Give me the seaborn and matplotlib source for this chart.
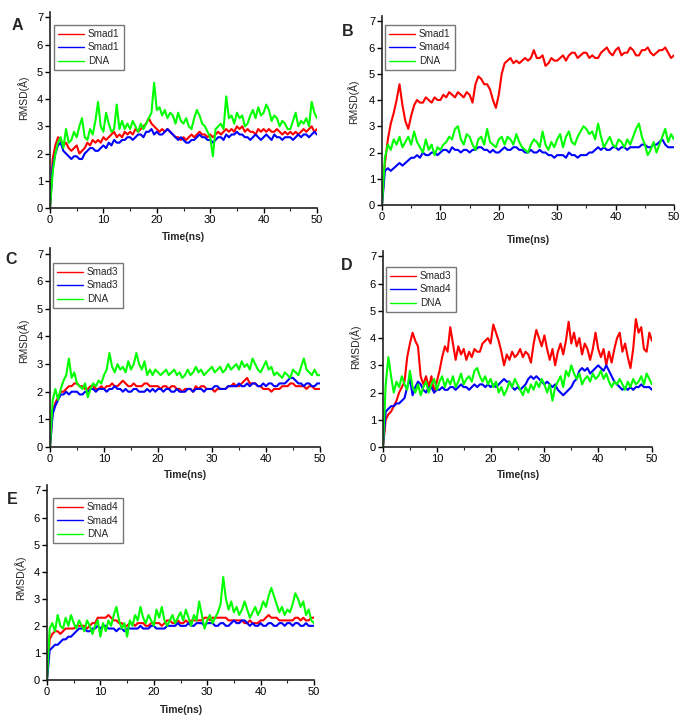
import numpy as np
import pandas as pd
import seaborn as sns
import matplotlib
matplotlib.use("Agg")
import matplotlib.pyplot as plt
from matplotlib.ticker import MultipleLocator

# sampling grid of the trajectories (ns)
time_ns = np.arange(0, 50.5, 0.5)

# ---- panel A : Smad1 / Smad1 / DNA
a_red = [0.0, 1.8, 2.3, 2.6, 2.5, 2.3, 2.4, 2.2, 2.1, 2.2,
         2.3, 2.0, 2.1, 2.2, 2.4, 2.3, 2.5, 2.4, 2.5, 2.4,
         2.6, 2.5, 2.6, 2.7, 2.8, 2.6, 2.7, 2.6, 2.8, 2.7,
         2.8, 2.7, 2.9, 2.8, 2.9, 3.0, 3.1, 3.3, 3.1, 3.0,
         2.9, 2.8, 2.9, 2.8, 2.9, 2.8, 2.7, 2.6, 2.6, 2.5,
         2.6, 2.5, 2.6, 2.7, 2.6, 2.7, 2.8, 2.7, 2.7, 2.6,
         2.7, 2.6, 2.7, 2.8, 2.7, 2.8, 2.9, 2.8, 2.9, 2.8,
         3.0, 2.9, 3.0, 2.8, 2.9, 2.8, 2.8, 2.7, 2.9, 2.8,
         2.9, 2.8, 2.9, 2.8, 2.8, 2.9, 2.8, 2.7, 2.8, 2.7,
         2.8, 2.7, 2.8, 2.7, 2.8, 2.9, 2.8, 2.9, 3.0, 2.8,
         2.9]
a_blue = [0.0, 1.5, 2.0, 2.3, 2.4, 2.1, 2.0, 1.9, 1.8, 1.9,
          1.9, 1.8, 1.8, 2.0, 2.1, 2.2, 2.2, 2.1, 2.1, 2.2,
          2.3, 2.2, 2.4, 2.3, 2.5, 2.4, 2.4, 2.5, 2.5, 2.6,
          2.6, 2.5, 2.6, 2.7, 2.7, 2.6, 2.8, 2.8, 2.9, 2.7,
          2.8, 2.7, 2.7, 2.8, 2.9, 2.8, 2.7, 2.6, 2.5, 2.6,
          2.5, 2.4, 2.4, 2.5, 2.5, 2.6, 2.7, 2.6, 2.6, 2.5,
          2.5, 2.4, 2.5, 2.6, 2.6, 2.5, 2.7, 2.6, 2.7, 2.7,
          2.8, 2.7, 2.7, 2.6, 2.6, 2.5, 2.6, 2.7, 2.6, 2.5,
          2.6, 2.7, 2.6, 2.5, 2.7, 2.6, 2.6, 2.5, 2.6, 2.6,
          2.6, 2.5, 2.6, 2.7, 2.6, 2.7, 2.7, 2.6, 2.7, 2.8,
          2.7]
a_green = [0.0, 1.3, 2.0, 2.4, 2.6, 2.2, 2.9, 2.4, 2.5, 2.8,
           2.6, 3.0, 3.3, 2.6, 2.5, 2.9, 2.7, 3.2, 3.9, 3.0,
           2.8, 3.5, 3.1, 2.8, 2.9, 3.8, 2.9, 3.2, 2.9, 3.1,
           2.9, 3.2, 3.0, 2.8, 3.1, 2.9, 3.1, 3.3, 3.5, 4.6,
           3.6, 3.7, 3.4, 3.6, 3.3, 3.5, 3.4, 3.1, 3.5, 3.2,
           3.1, 3.3, 3.0, 2.9, 3.3, 3.6, 3.4, 3.1, 3.0, 2.8,
           2.6, 1.9, 2.9, 3.0, 3.1, 2.9, 4.1, 3.3, 3.4, 3.1,
           3.5, 3.3, 3.4, 3.0, 3.1, 3.4, 3.6, 3.3, 3.7, 3.4,
           3.5, 3.8, 3.6, 3.2, 3.4, 3.3, 3.0, 3.2, 3.1, 2.9,
           2.9, 3.2, 3.5, 3.0, 3.2, 3.1, 3.3, 3.0, 3.9, 3.5,
           3.3]

# ---- panel B : Smad1 / Smad4 / DNA
b_red = [0.0, 1.6, 2.5, 3.1, 3.5, 4.0, 4.6, 3.8, 3.2, 2.9,
         3.4, 3.8, 4.0, 3.9, 3.9, 4.1, 4.0, 3.9, 4.1, 4.0,
         4.0, 4.2, 4.1, 4.3, 4.2, 4.1, 4.3, 4.2, 4.1, 4.3,
         4.2, 3.9, 4.6, 4.9, 4.8, 4.6, 4.6, 4.4, 4.0, 3.7,
         4.2, 5.0, 5.4, 5.5, 5.6, 5.4, 5.5, 5.4, 5.5, 5.6,
         5.5, 5.6, 5.9, 5.6, 5.6, 5.7, 5.3, 5.4, 5.6, 5.5,
         5.5, 5.6, 5.7, 5.5, 5.7, 5.8, 5.8, 5.6, 5.7, 5.8,
         5.8, 5.6, 5.7, 5.6, 5.6, 5.8, 5.9, 6.0, 5.8, 5.7,
         5.9, 6.0, 5.7, 5.8, 5.8, 6.0, 5.9, 5.7, 5.7, 5.9,
         5.9, 6.0, 5.8, 5.7, 5.8, 5.9, 5.9, 6.0, 5.8, 5.6,
         5.7]
b_blue = [0.0, 1.3, 1.4, 1.3, 1.4, 1.5, 1.6, 1.5, 1.6, 1.7,
          1.8, 1.8, 1.9, 1.8, 2.0, 1.9, 1.9, 2.0, 2.0, 1.9,
          2.0, 2.1, 2.1, 2.0, 2.2, 2.1, 2.1, 2.0, 2.1, 2.1,
          2.0, 2.1, 2.1, 2.2, 2.2, 2.1, 2.1, 2.0, 2.1, 2.0,
          2.0, 2.1, 2.2, 2.1, 2.1, 2.2, 2.2, 2.1, 2.1, 2.0,
          2.0, 2.1, 2.0, 2.0, 2.1, 2.0, 2.0, 1.9, 1.9, 1.8,
          1.9, 1.9, 1.9, 1.8, 2.0, 1.9, 1.9, 1.8, 1.9, 1.9,
          1.9, 2.0, 2.0, 2.1, 2.2, 2.1, 2.2, 2.1, 2.1, 2.2,
          2.2, 2.1, 2.2, 2.2, 2.1, 2.2, 2.2, 2.2, 2.2, 2.3,
          2.3, 2.2, 2.2, 2.3, 2.3, 2.4, 2.5, 2.3, 2.2, 2.2,
          2.2]
b_green = [0.0, 1.8, 2.3, 2.1, 2.5, 2.3, 2.6, 2.2, 2.4, 2.6,
           2.3, 2.8, 2.4, 2.2, 2.0, 2.5, 2.1, 2.3, 1.9, 2.2,
           2.1, 2.3, 2.4, 2.6, 2.5, 2.9, 3.0, 2.5, 2.3, 2.7,
           2.6, 2.3, 2.1, 2.5, 2.6, 2.3, 2.9, 2.4, 2.3, 2.2,
           2.5, 2.6, 2.3, 2.6, 2.5, 2.3, 2.7, 2.4, 2.2, 2.1,
           2.0, 2.3, 2.5, 2.4, 2.2, 2.8, 2.3, 2.1, 2.4, 2.2,
           2.5, 2.7, 2.2, 2.6, 2.8, 2.4, 2.3, 2.6, 2.8, 3.0,
           2.9, 2.7, 2.8, 2.5, 3.1, 2.6, 2.2, 2.4, 2.6, 2.3,
           2.2, 2.5, 2.4, 2.2, 2.5, 2.3, 2.6, 2.9, 3.1, 2.6,
           2.3, 1.9, 2.1, 2.4, 2.0, 2.3, 2.6, 2.9, 2.4, 2.7,
           2.5]

# ---- panel C : Smad3 / Smad3 / DNA
c_red = [0.0, 1.3, 1.6, 1.8, 2.0, 2.0, 2.1, 2.2, 2.2, 2.3,
         2.3, 2.2, 2.2, 2.1, 2.1, 2.2, 2.2, 2.1, 2.1, 2.2,
         2.1, 2.2, 2.2, 2.3, 2.2, 2.2, 2.3, 2.4, 2.3, 2.2,
         2.2, 2.3, 2.2, 2.2, 2.2, 2.3, 2.3, 2.2, 2.2, 2.2,
         2.2, 2.1, 2.2, 2.2, 2.1, 2.2, 2.2, 2.1, 2.1, 2.0,
         2.1, 2.1, 2.1, 2.0, 2.2, 2.1, 2.2, 2.2, 2.1, 2.1,
         2.1, 2.0, 2.1, 2.1, 2.1, 2.1, 2.2, 2.2, 2.3, 2.2,
         2.2, 2.3, 2.4, 2.5, 2.3, 2.3, 2.3, 2.2, 2.2, 2.1,
         2.1, 2.1, 2.0, 2.1, 2.1, 2.1, 2.2, 2.2, 2.2, 2.3,
         2.3, 2.2, 2.2, 2.2, 2.2, 2.1, 2.2, 2.2, 2.1, 2.1,
         2.1]
c_blue = [0.0, 1.2, 1.5, 1.7, 1.9, 1.9, 2.0, 1.9, 2.0, 2.0,
          2.0, 1.9, 1.9, 2.0, 2.0, 2.1, 2.1, 2.0, 2.1, 2.1,
          2.1, 2.0, 2.1, 2.1, 2.2, 2.1, 2.1, 2.0, 2.1, 2.0,
          2.0, 2.1, 2.1, 2.0, 2.0, 2.0, 2.1, 2.0, 2.1, 2.0,
          2.1, 2.1, 2.0, 2.1, 2.1, 2.0, 2.0, 2.1, 2.0, 2.0,
          2.0, 2.1, 2.1, 2.0, 2.1, 2.1, 2.1, 2.0, 2.1, 2.1,
          2.1, 2.2, 2.2, 2.1, 2.1, 2.1, 2.2, 2.2, 2.2, 2.2,
          2.3, 2.2, 2.2, 2.3, 2.2, 2.3, 2.3, 2.2, 2.2, 2.3,
          2.2, 2.3, 2.3, 2.2, 2.2, 2.3, 2.3, 2.3, 2.4, 2.5,
          2.5, 2.4, 2.3, 2.3, 2.2, 2.3, 2.3, 2.2, 2.2, 2.3,
          2.3]
c_green = [0.0, 1.7, 2.1, 1.7, 2.1, 2.4, 2.6, 3.2, 2.5, 2.7,
           2.3, 2.2, 2.1, 2.3, 1.8, 2.1, 2.3, 2.2, 2.4, 2.3,
           2.6, 2.8, 3.4, 2.9, 2.7, 3.0, 2.8, 2.9, 2.7, 3.1,
           2.8, 3.0, 3.4, 3.0, 2.8, 3.1, 2.6, 2.8, 2.6, 2.8,
           2.7, 2.6, 2.7, 2.8, 2.6, 2.7, 2.8, 2.6, 2.7, 2.5,
           2.6, 2.8, 2.6, 2.7, 2.9, 2.7, 2.8, 2.6, 2.7, 2.8,
           2.9, 2.7, 2.8, 2.9, 2.7, 2.8, 3.0, 2.8, 2.9, 3.0,
           2.8, 3.1, 2.9, 3.0, 2.8, 3.2, 3.0, 2.8, 2.7, 2.9,
           3.1, 2.8, 2.9, 2.6, 2.7, 2.6, 2.5, 2.7, 2.6, 2.5,
           2.8, 2.7, 2.6, 2.9, 3.2, 2.8, 2.7, 2.6, 2.8, 2.6,
           2.6]

# ---- panel D : Smad3 / Smad4 / DNA
d_red = [0.0, 1.0, 1.2, 1.3, 1.5, 1.7, 2.0, 2.2, 2.4, 3.3,
         3.8, 4.2, 3.9, 3.7, 2.6, 2.3, 2.6, 2.2, 2.6, 2.0,
         2.4, 2.8, 3.3, 3.7, 3.5, 4.4, 3.8, 3.2, 3.7, 3.4,
         3.6, 3.2, 3.5, 3.3, 3.6, 3.5, 3.5, 3.8, 3.9, 4.0,
         3.8, 4.5, 4.2, 3.9, 3.5, 3.0, 3.4, 3.2, 3.5, 3.3,
         3.4, 3.6, 3.3, 3.5, 3.4, 3.1, 3.8, 4.3, 4.0, 3.7,
         4.1, 3.6, 3.2, 3.6, 3.0, 3.5, 3.8, 3.4, 3.9, 4.6,
         3.8, 4.2, 3.7, 4.0, 3.4, 3.8, 3.6, 3.2, 3.6, 4.2,
         3.6, 3.3, 3.6, 3.0, 3.5, 3.1, 3.6, 4.0, 4.2, 3.5,
         3.8, 3.3, 2.9, 3.6, 4.7, 4.2, 4.4, 3.6, 3.5, 4.2,
         3.9]
d_blue = [0.0, 1.3, 1.4, 1.5, 1.5, 1.6, 1.6, 1.7, 1.8, 2.2,
          2.5, 1.9, 2.2, 2.4, 2.3, 2.1, 2.0, 2.2, 2.2, 2.0,
          2.1, 2.1, 2.2, 2.1, 2.1, 2.2, 2.2, 2.1, 2.2, 2.3,
          2.2, 2.2, 2.1, 2.2, 2.3, 2.2, 2.3, 2.3, 2.2, 2.3,
          2.2, 2.3, 2.2, 2.3, 2.4, 2.5, 2.4, 2.4, 2.2, 2.1,
          2.2, 2.1, 2.2, 2.3, 2.5, 2.6, 2.5, 2.6, 2.5, 2.4,
          2.3, 2.4, 2.3, 2.2, 2.3, 2.1, 2.0, 1.9, 2.0, 2.1,
          2.2, 2.4, 2.5, 2.8, 2.9, 2.8, 2.9, 2.7, 2.8, 2.9,
          3.0, 2.9, 2.8, 3.0, 2.8, 2.6, 2.4, 2.3, 2.2, 2.1,
          2.2, 2.1, 2.2, 2.1, 2.2, 2.2, 2.3, 2.2, 2.2, 2.2,
          2.1]
d_green = [0.0, 2.3, 3.3, 2.6, 2.0, 2.4, 2.2, 2.6, 2.3, 2.1,
           2.8, 2.2, 2.0, 2.3, 1.9, 2.2, 2.4, 2.0, 2.3, 2.5,
           2.1, 2.4, 2.6, 2.2, 2.5, 2.3, 2.6, 2.2, 2.4, 2.7,
           2.3, 2.5, 2.6, 2.4, 2.8, 2.9, 2.6, 2.4, 2.6, 2.3,
           2.5, 2.2, 2.4, 2.0, 2.2, 1.9, 2.1, 2.4, 2.2, 2.5,
           2.3, 2.1, 1.9, 2.2, 2.0, 2.3, 2.1, 2.4, 2.2, 2.5,
           2.3, 2.0, 2.3, 1.7, 2.2, 2.4, 2.6, 2.2, 2.8, 2.6,
           3.0, 2.7, 2.5, 2.7, 2.3, 2.5, 2.6, 2.4, 2.7, 2.5,
           2.6, 2.8, 2.5, 2.7, 2.4, 2.2, 2.4, 2.3, 2.5, 2.3,
           2.1, 2.4, 2.2, 2.5, 2.3, 2.4, 2.6, 2.3, 2.7, 2.5,
           2.3]

# ---- panel E : Smad4 / Smad4 / DNA
e_red = [0.0, 1.5, 1.7, 1.8, 1.8, 1.7, 1.8, 1.9, 1.9, 1.9,
         1.9, 2.0, 2.0, 2.0, 2.0, 1.9, 2.0, 2.1, 2.1, 2.3,
         2.3, 2.3, 2.3, 2.4, 2.3, 2.2, 2.2, 2.1, 2.1, 2.0,
         2.0, 2.1, 2.1, 2.0, 2.1, 2.1, 2.1, 2.0, 2.0, 2.1,
         2.1, 2.1, 2.1, 2.0, 2.1, 2.2, 2.2, 2.1, 2.1, 2.2,
         2.1, 2.1, 2.2, 2.1, 2.2, 2.2, 2.2, 2.2, 2.2, 2.3,
         2.3, 2.2, 2.3, 2.3, 2.3, 2.3, 2.3, 2.3, 2.2, 2.2,
         2.2, 2.2, 2.2, 2.2, 2.1, 2.1, 2.2, 2.1, 2.1, 2.1,
         2.2, 2.2, 2.3, 2.4, 2.3, 2.3, 2.3, 2.2, 2.2, 2.2,
         2.2, 2.2, 2.2, 2.3, 2.3, 2.2, 2.3, 2.2, 2.2, 2.3,
         2.3]
e_blue = [0.0, 1.1, 1.2, 1.3, 1.3, 1.4, 1.5, 1.5, 1.6, 1.6,
          1.7, 1.8, 1.9, 1.9, 1.9, 1.8, 1.8, 1.9, 1.9, 2.0,
          1.9, 2.0, 2.0, 1.9, 1.9, 1.9, 1.8, 1.9, 1.9, 1.8,
          1.9, 1.9, 1.9, 1.9, 1.9, 2.0, 1.9, 1.9, 1.9, 2.0,
          2.0, 1.9, 1.9, 1.9, 1.9, 2.0, 2.0, 2.0, 2.0, 2.1,
          2.0, 2.0, 2.0, 2.1, 2.0, 2.0, 2.1, 2.1, 2.1, 2.0,
          2.1, 2.1, 2.1, 2.0, 2.0, 2.1, 2.1, 2.0, 2.0, 2.1,
          2.2, 2.1, 2.1, 2.2, 2.2, 2.1, 2.0, 2.1, 2.0, 2.0,
          2.1, 2.0, 2.0, 2.1, 2.1, 2.0, 2.0, 2.1, 2.1, 2.0,
          2.1, 2.1, 2.0, 2.1, 2.1, 2.0, 2.0, 2.1, 2.0, 2.0,
          2.0]
e_green = [0.0, 1.9, 2.1, 1.8, 2.4, 2.0, 1.9, 2.3, 2.0, 2.4,
           2.1, 1.9, 2.2, 2.0, 1.8, 2.2, 2.0, 1.7, 2.0, 2.2,
           1.6, 2.1, 1.8, 2.2, 2.0, 2.4, 2.7, 2.2, 1.9, 2.1,
           1.6, 2.2, 2.0, 2.4, 2.2, 2.7, 2.3, 2.1, 2.4, 2.2,
           2.0, 2.6, 2.3, 2.7, 2.2, 2.0, 2.2, 2.4, 2.1, 2.3,
           2.5, 2.2, 2.6, 2.3, 2.0, 2.4, 2.2, 2.9, 2.4, 1.9,
           2.2, 2.4, 2.1, 2.3, 2.5, 2.8, 3.8, 3.0, 2.6, 2.9,
           2.5, 2.7, 2.4, 2.6, 2.9, 2.6, 2.3, 2.5, 2.7, 2.4,
           2.6, 2.9, 2.7, 3.1, 3.4, 3.1, 2.8, 2.5, 2.7, 2.4,
           2.6, 2.5, 2.8, 3.2, 3.0, 2.7, 2.9, 2.4, 2.6, 2.2,
           2.1]

panel_letters = ["A", "B", "C", "D", "E"]
panel_labels = [["Smad1", "Smad1", "DNA"],
                ["Smad1", "Smad4", "DNA"],
                ["Smad3", "Smad3", "DNA"],
                ["Smad3", "Smad4", "DNA"],
                ["Smad4", "Smad4", "DNA"]]
panel_series = [[a_red, a_blue, a_green],
                [b_red, b_blue, b_green],
                [c_red, c_blue, c_green],
                [d_red, d_blue, d_green],
                [e_red, e_blue, e_green]]
line_colors = ["#ff0000", "#0000ff", "#00ff00"]

# layout in pixels of the 687x722 image
W, H = 687, 722
# x at t=0, x at t=50, y at top of axis (7.2), y at 0
axes_px = [(50, 317, 12, 208),
           (382, 674, 16, 205),
           (50, 320, 248, 447),
           (383, 652, 251, 447),
           (47, 314, 485, 680)]
letter_px = [(17, 26), (348, 31), (11, 259), (347, 266), (12, 499)]
legend_px = [(54, 25), (385, 25), (53, 263), (386, 267), (53, 498)]
ylabel_px = [(23, 98), (353, 102), (23, 341), (355, 347), (20, 578)]
xlabel_px = [(183, 237), (528, 240), (185, 475), (518, 475), (181, 710)]

sns.set_style("ticks")
plt.rcParams["font.family"] = ["Liberation Sans", "DejaVu Sans"]

fig = plt.figure(figsize=(W / 100, H / 100), dpi=100)

for i, letter in enumerate(panel_letters):
    x0, x1, yt, yb = axes_px[i]
    ax = fig.add_axes([x0 / W, 1 - yb / H, (x1 - x0) / W, (yb - yt) / H])
    df = pd.DataFrame({"time": np.tile(time_ns, 3),
                       "rmsd": np.concatenate(panel_series[i]),
                       "line": np.repeat(["r", "b", "g"], len(time_ns))})
    for key, color, name in zip(["r", "b", "g"], line_colors, panel_labels[i]):
        sns.lineplot(data=df[df["line"] == key], x="time", y="rmsd", color=color,
                     linewidth=1.5, label=name, ax=ax, legend=False)

    ax.set_xlim(0, 50)
    ax.set_ylim(0, 7.2)
    ax.xaxis.set_major_locator(MultipleLocator(10))
    ax.xaxis.set_minor_locator(MultipleLocator(5))
    ax.yaxis.set_major_locator(MultipleLocator(1))
    ax.tick_params(which="major", direction="out", length=3.5, width=1.0,
                   labelsize=8, pad=1.5, colors="black")
    ax.tick_params(which="minor", direction="out", length=2, width=0.8)
    sns.despine(ax=ax)
    for s in ["left", "bottom"]:
        ax.spines[s].set_linewidth(1.2)
        ax.spines[s].set_color("#222222")

    ax.set_xlabel("Time(ns)", fontsize=7.5, fontweight="bold")
    ax.set_ylabel("RMSD(Å)", fontsize=7.5)
    xl, yl = xlabel_px[i]
    ax.xaxis.set_label_coords(xl / W, 1 - yl / H, transform=fig.transFigure)
    ax.xaxis.label.set_va("center")
    xl, yl = ylabel_px[i]
    ax.yaxis.set_label_coords(xl / W, 1 - yl / H, transform=fig.transFigure)
    ax.yaxis.label.set_va("center")

    lx, ly = legend_px[i]
    leg = ax.legend(loc="upper left", bbox_to_anchor=(lx / W, 1 - ly / H),
                    bbox_transform=fig.transFigure, fontsize=7.2, frameon=True,
                    fancybox=False, borderaxespad=0, handlelength=2.6,
                    handletextpad=0.4, labelspacing=0.35, borderpad=0.4)
    leg.get_frame().set_edgecolor("#555555")
    leg.get_frame().set_linewidth(1.0)
    for h in leg.get_lines():
        h.set_linewidth(1.0)

    tx, ty = letter_px[i]
    fig.text(tx / W, 1 - ty / H, letter, fontsize=11.5, fontweight="bold",
             ha="center", va="center")

fig.savefig("out.png", dpi=100, facecolor="white")
